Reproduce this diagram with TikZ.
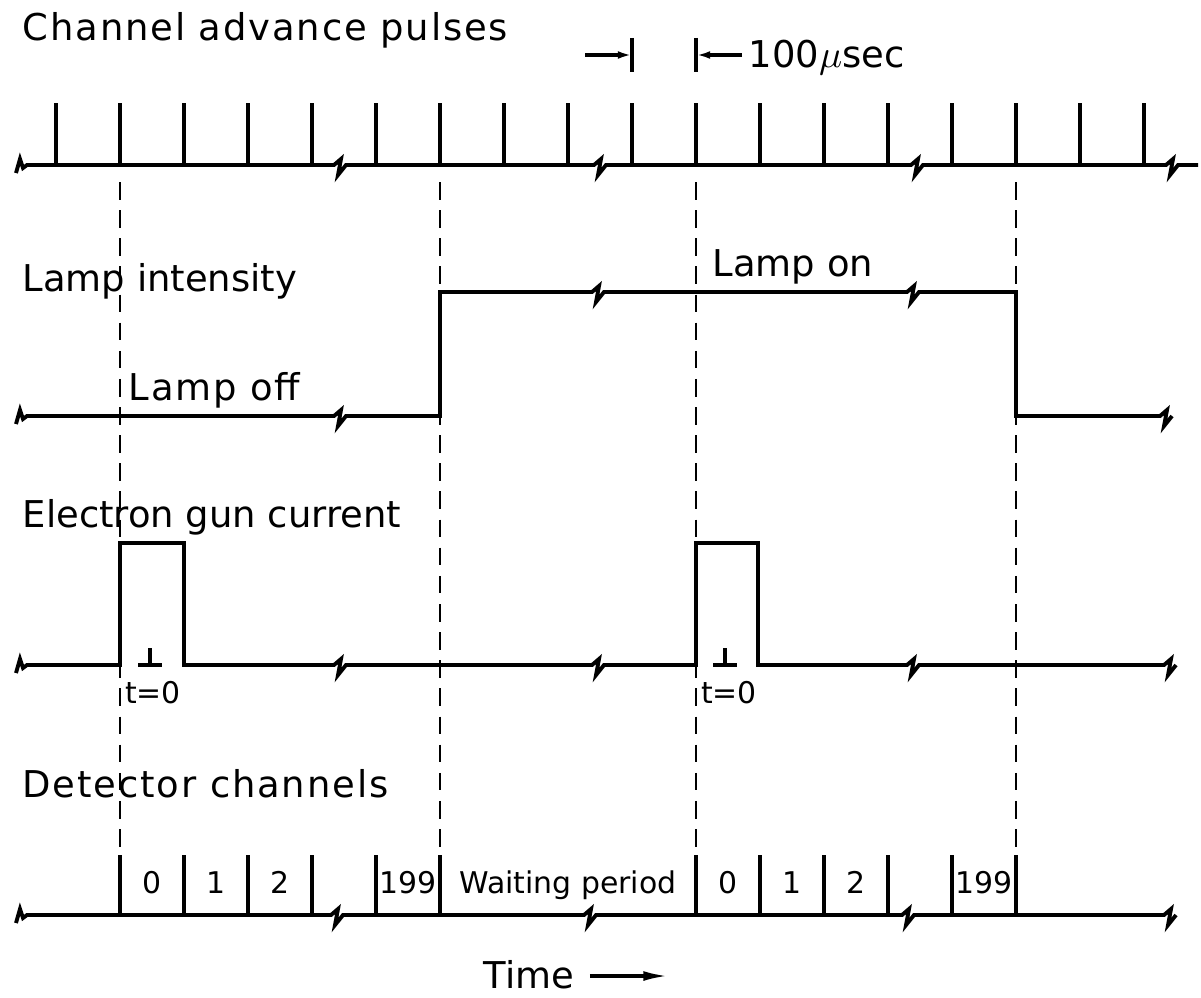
\documentclass[tikz,border=0pt]{standalone}
\usepackage{fontspec}
\setmainfont{DejaVu Sans}
\usepackage{tikz}
\usetikzlibrary{arrows.meta}

\begin{document}
\begin{tikzpicture}[x=0.01cm,y=0.01cm,
  sig/.style={line width=1.1pt,line join=miter},
  pulse/.style={line width=1pt},
  guide/.style={line width=0.7pt,dash pattern=on 5pt off 3pt},
  mark0/.style={line width=0.9pt},
  lbl/.style={font=\fontsize{10.5}{12}\selectfont,inner sep=0pt,anchor=base west},
  wide/.style={font=\fontsize{10.5}{12}\selectfont\addfontfeature{LetterSpace=5}},
  chan/.style={font=\fontsize{8.5}{10}\selectfont,inner sep=0pt,anchor=base}]
\useasboundingbox (0,0) rectangle (1201,-997);
\node[lbl,wide] (cap) at (22,-41) {Channel advance pulses};
\draw[sig] (16,-173) -- ++(4,14) -- ++(3,-9) -- ++(4,3) -- (334,-165) -- ++(7,6) -- ++(-3,-16) -- ++(8,10) -- (594,-165) -- ++(7,6) -- ++(-3,-16) -- ++(8,10) -- (911,-165) -- ++(7,6) -- ++(-3,-16) -- ++(8,10) -- (1166,-165) -- ++(7,6) -- ++(-3,-16) -- ++(8,10) -- (1198,-165);
\draw[pulse] (56,-165) -- (56,-103) (120,-165) -- (120,-103) (184,-165) -- (184,-103) (248,-165) -- (248,-103) (312,-165) -- (312,-103);
\draw[pulse] (376,-165) -- (376,-103) (440,-165) -- (440,-103) (504,-165) -- (504,-103) (568,-165) -- (568,-103);
\draw[pulse] (632,-165) -- (632,-103) (696,-165) -- (696,-103) (760,-165) -- (760,-103) (824,-165) -- (824,-103) (888,-165) -- (888,-103);
\draw[pulse] (952,-165) -- (952,-103) (1016,-165) -- (1016,-103) (1080,-165) -- (1080,-103) (1144,-165) -- (1144,-103);
\coordinate (pa) at (632,-55);
\coordinate (pb) at (696,-55);
\draw[mark0] (632,-38) -- (632,-72) (696,-38) -- (696,-72);
\node[lbl] (per) at (748,-68) {100$\mu$sec};
\draw[mark0,-{Latex[length=4pt,width=2.2pt]}] (585,-55) -- (pa);
\draw[mark0,-{Latex[length=4pt,width=2.2pt]}] (per.west |- pb) ++(-6,0) -- (pb);
\node[lbl] (lint) at (22,-291) {Lamp intensity};
\node[lbl] (lon) at (712,-276) {Lamp on};
\node[lbl,wide] (loff) at (128,-400) {Lamp off};
\draw[sig] (16,-424) -- ++(4,14) -- ++(3,-9) -- ++(4,3) -- (334,-416) -- ++(7,6) -- ++(-3,-16) -- ++(8,10) -- (440,-416) -- (440,-292) -- (592,-292) -- ++(7,6) -- ++(-3,-16) -- ++(8,10) -- (907,-292) -- ++(7,6) -- ++(-3,-16) -- ++(8,10) -- (1016,-292) -- (1016,-416) -- (1160,-416) -- ++(7,6) -- ++(-3,-16) -- ++(8,10);
\node[lbl] (egun) at (22,-527) {Electron gun current};
\draw[sig] (16,-673) -- ++(4,14) -- ++(3,-9) -- ++(4,3) -- (120,-665) -- (120,-543) -- (184,-543) -- (184,-665) -- (334,-665) -- ++(7,6) -- ++(-3,-16) -- ++(8,10) -- (592,-665) -- ++(7,6) -- ++(-3,-16) -- ++(8,10) -- (696,-665) -- (696,-543) -- (758,-543) -- (758,-665) -- (907,-665) -- ++(7,6) -- ++(-3,-16) -- ++(8,10) -- (1164,-665) -- ++(7,6) -- ++(-3,-16) -- ++(8,10);
\draw[mark0] (150,-648) -- (150,-665) (138,-665) -- (162,-665);
\draw[mark0] (725,-648) -- (725,-665) (713,-665) -- (737,-665);
\node[chan] (tz1) at (153,-703) {t=0};
\node[chan] (tz2) at (729,-703) {t=0};
\node[lbl,wide] (det) at (22,-797) {Detector channels};
\draw[sig] (16,-923) -- ++(4,14) -- ++(3,-9) -- ++(4,3) -- (331,-915) -- ++(7,6) -- ++(-3,-16) -- ++(8,10) -- (584,-915) -- ++(7,6) -- ++(-3,-16) -- ++(8,10) -- (902,-915) -- ++(7,6) -- ++(-3,-16) -- ++(8,10) -- (1164,-915) -- ++(7,6) -- ++(-3,-16) -- ++(8,10);
\draw[pulse] (120,-915) -- (120,-855) (184,-915) -- (184,-855) (248,-915) -- (248,-855) (312,-915) -- (312,-855) (376,-915) -- (376,-855) (440,-915) -- (440,-855);
\draw[pulse] (696,-915) -- (696,-855) (760,-915) -- (760,-855) (824,-915) -- (824,-855) (888,-915) -- (888,-855) (952,-915) -- (952,-855) (1016,-915) -- (1016,-855);
\node[chan] (c0a) at (152,-893) {0};
\node[chan] (c1a) at (216,-893) {1};
\node[chan] (c2a) at (280,-893) {2};
\node[chan] (c199a) at (408,-893) {199};
\node[chan] (wait) at (568,-893) {Waiting period};
\node[chan] (c0b) at (728,-893) {0};
\node[chan] (c1b) at (792,-893) {1};
\node[chan] (c2b) at (856,-893) {2};
\node[chan] (c199b) at (984,-893) {199};
\draw[guide] (120,-182) -- (120,-855);
\draw[guide] (440,-182) -- (440,-855);
\draw[guide] (696,-182) -- (696,-855);
\draw[guide] (1016,-182) -- (1016,-855);
\node[lbl] (tim) at (483,-988) {Time};
\coordinate (tend) at (668,-976);
\draw[mark0,-{Latex[length=7pt,width=2.8pt]}] (tim.east |- tend) ++(15,0) -- (tend);
\end{tikzpicture}
\end{document}
